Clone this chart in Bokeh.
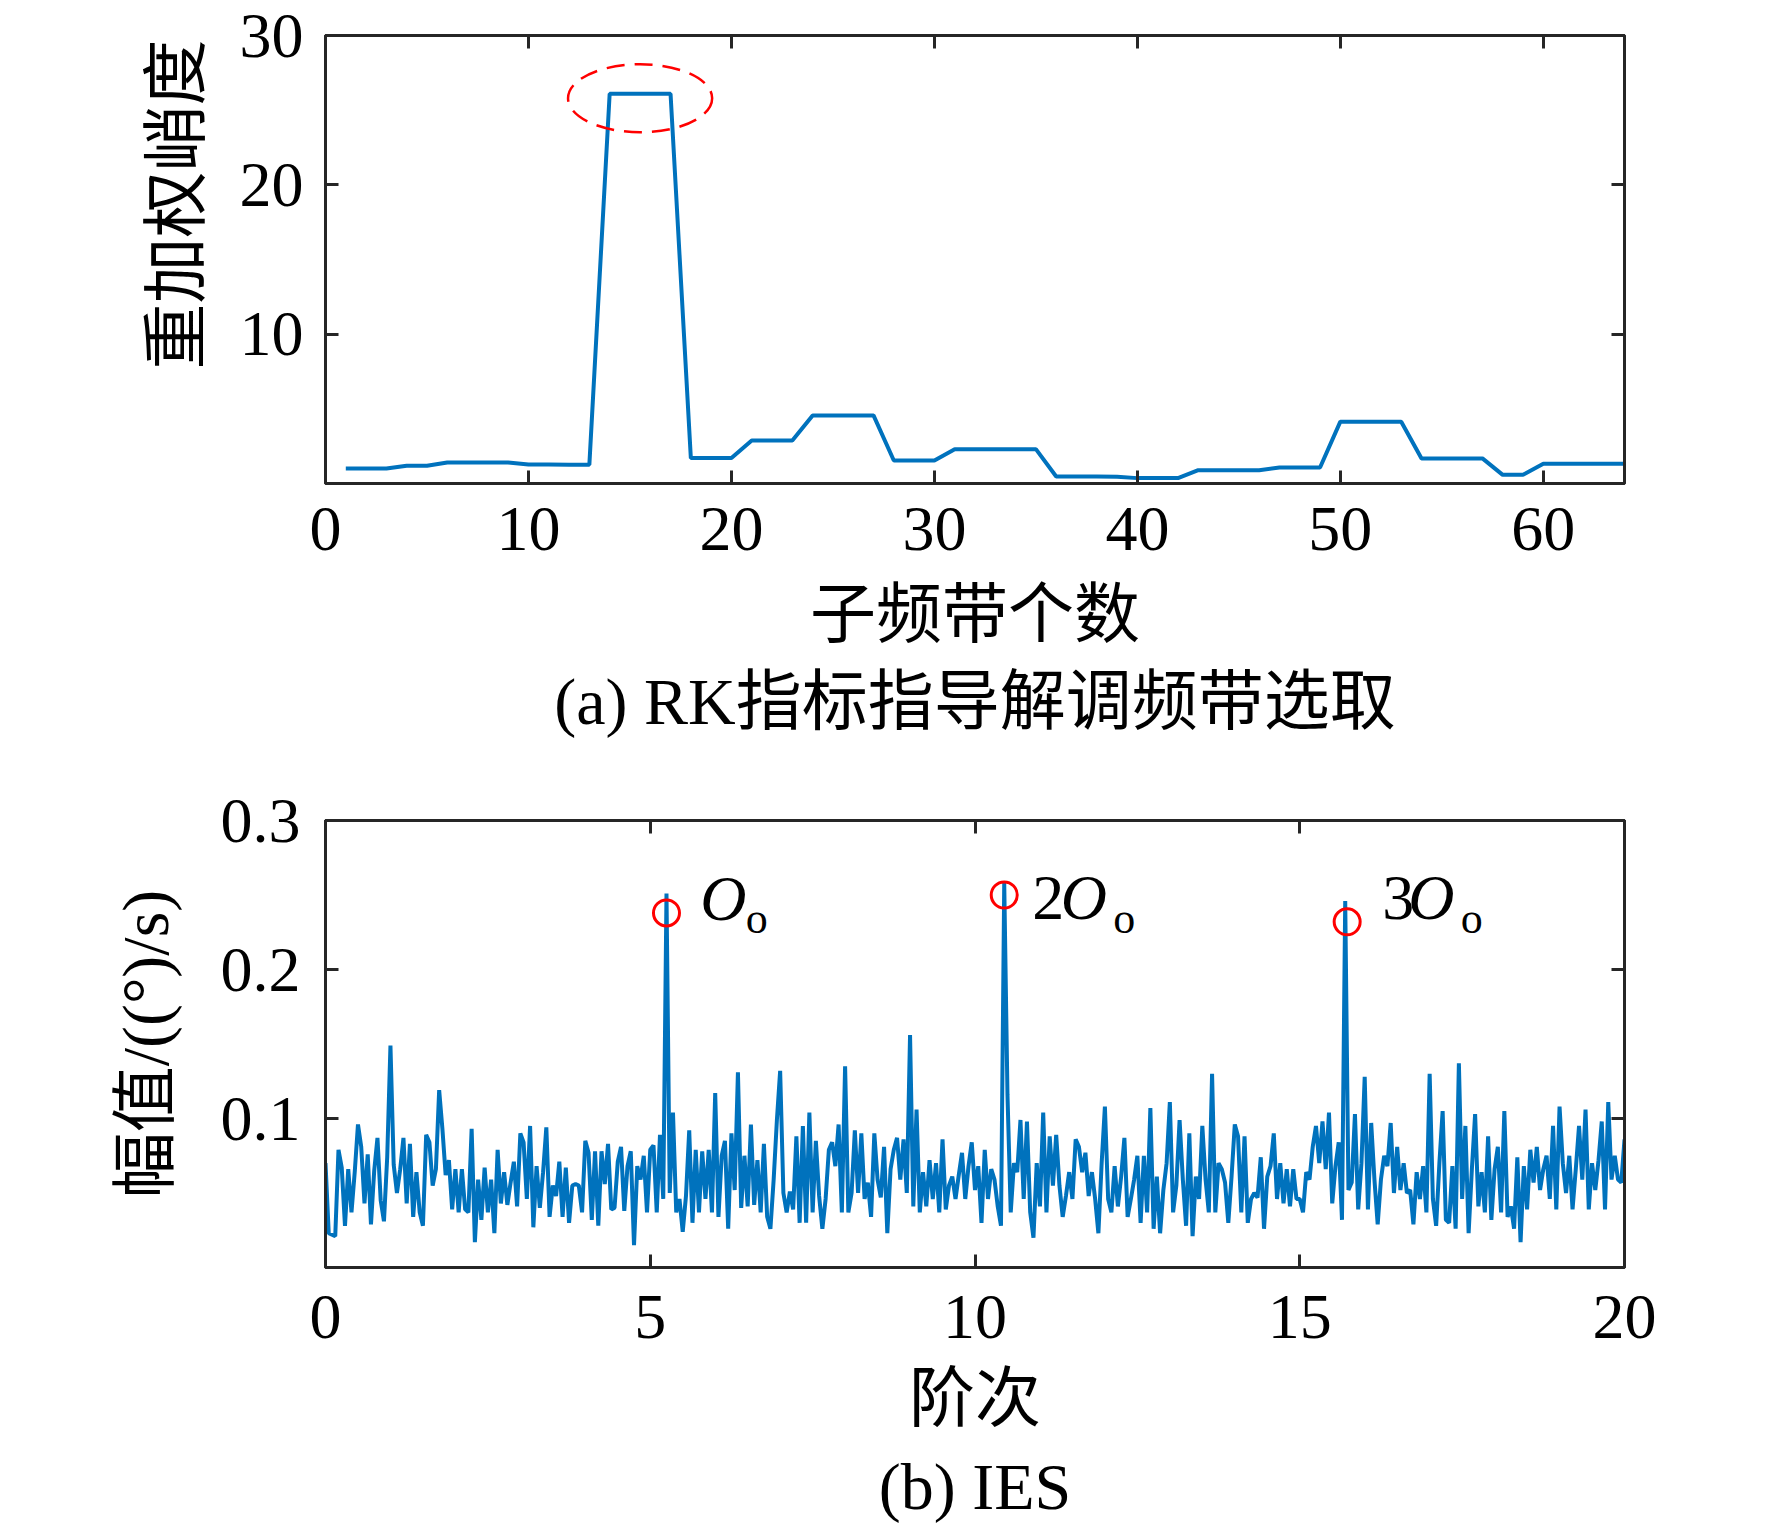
#RK index band selection + IES spectrum, two stacked panels
from bokeh.plotting import figure
from bokeh.models import Range1d, LinearAxis, FixedTicker, Label, Title, CustomJSTickFormatter
from bokeh.layouts import column
from bokeh.embed import file_html
from bokeh.resources import INLINE

#Panel (a): reweighted kurtosis per sub-band
band_no = list(range(1, 65))
rk_value = [1.00, 1.00, 1.00, 1.19, 1.19, 1.41, 1.41, 1.41, 1.40, 1.28, 1.27, 1.26, 1.26,
            26.1, 26.1, 26.1, 26.1,
            1.70, 1.70, 1.70, 2.88, 2.88, 2.88, 4.56, 4.56, 4.56, 4.56, 1.54, 1.54, 1.54,
            2.30, 2.30, 2.30, 2.30, 2.30, 0.47, 0.47, 0.47, 0.46, 0.36, 0.36, 0.36,
            0.89, 0.89, 0.89, 0.89, 1.07, 1.07, 1.07, 4.14, 4.14, 4.14, 4.14,
            1.68, 1.68, 1.68, 1.68, 0.58, 0.58, 1.32, 1.32, 1.32, 1.32, 1.32]
ring_x, ring_y, ring_w, ring_h = 15.5, 25.8, 7.1, 4.55

#Panel (b): IES amplitude, orders 0..20 step 0.05
amp_0_5 = [0.070, 0.023, 0.022, 0.021, 0.079, 0.067, 0.028, 0.066, 0.037, 0.064,
           0.096, 0.081, 0.043, 0.076, 0.029, 0.065, 0.087, 0.045, 0.031, 0.074,
           0.149, 0.069, 0.050, 0.066, 0.087, 0.043, 0.083, 0.034, 0.064, 0.037,
           0.028, 0.089, 0.084, 0.055, 0.066, 0.119, 0.093, 0.062, 0.072, 0.039,
           0.066, 0.037, 0.066, 0.039, 0.037, 0.093, 0.017, 0.059, 0.032, 0.067,
           0.037, 0.059, 0.023, 0.079, 0.043, 0.064, 0.042, 0.057, 0.071, 0.041,
           0.090, 0.084, 0.046, 0.095, 0.027, 0.068, 0.040, 0.064, 0.094, 0.034,
           0.055, 0.048, 0.071, 0.034, 0.067, 0.030, 0.055, 0.056, 0.055, 0.037,
           0.085, 0.077, 0.032, 0.078, 0.028, 0.078, 0.056, 0.083, 0.039, 0.040,
           0.071, 0.081, 0.038, 0.068, 0.078, 0.015, 0.068, 0.059, 0.075, 0.037]
amp_5_10 = [0.079, 0.082, 0.037, 0.089, 0.046, 0.251, 0.050, 0.104, 0.037, 0.046,
            0.024, 0.048, 0.092, 0.030, 0.079, 0.037, 0.078, 0.046, 0.079, 0.037,
            0.117, 0.034, 0.075, 0.085, 0.026, 0.090, 0.052, 0.131, 0.040, 0.075,
            0.041, 0.096, 0.042, 0.072, 0.037, 0.083, 0.034, 0.026, 0.059, 0.099,
            0.132, 0.050, 0.037, 0.051, 0.039, 0.088, 0.030, 0.095, 0.030, 0.104,
            0.037, 0.085, 0.048, 0.026, 0.046, 0.079, 0.084, 0.068, 0.096, 0.037,
            0.135, 0.037, 0.050, 0.092, 0.050, 0.090, 0.046, 0.057, 0.034, 0.090,
            0.059, 0.047, 0.081, 0.023, 0.066, 0.079, 0.087, 0.059, 0.086, 0.050,
            0.156, 0.041, 0.106, 0.037, 0.064, 0.041, 0.072, 0.046, 0.070, 0.037,
            0.086, 0.039, 0.055, 0.061, 0.046, 0.062, 0.077, 0.046, 0.068, 0.084]
amp_10_15 = [0.052, 0.068, 0.030, 0.079, 0.046, 0.066, 0.059, 0.041, 0.028, 0.258,
             0.116, 0.037, 0.070, 0.064, 0.099, 0.046, 0.098, 0.037, 0.020, 0.070,
             0.041, 0.104, 0.037, 0.088, 0.055, 0.089, 0.055, 0.034, 0.048, 0.064,
             0.046, 0.086, 0.081, 0.064, 0.077, 0.048, 0.064, 0.046, 0.023, 0.070,
             0.108, 0.046, 0.037, 0.068, 0.041, 0.061, 0.087, 0.034, 0.046, 0.059,
             0.075, 0.030, 0.075, 0.037, 0.107, 0.026, 0.061, 0.023, 0.052, 0.070,
             0.111, 0.037, 0.055, 0.099, 0.059, 0.028, 0.090, 0.021, 0.061, 0.046,
             0.095, 0.059, 0.037, 0.130, 0.037, 0.070, 0.066, 0.057, 0.030, 0.061,
             0.096, 0.088, 0.037, 0.088, 0.030, 0.046, 0.050, 0.047, 0.074, 0.026,
             0.061, 0.068, 0.090, 0.046, 0.070, 0.043, 0.066, 0.041, 0.066, 0.046]
amp_15_20 = [0.046, 0.037, 0.064, 0.059, 0.081, 0.095, 0.070, 0.098, 0.066, 0.104,
             0.043, 0.068, 0.084, 0.032, 0.246, 0.052, 0.057, 0.103, 0.039, 0.070,
             0.128, 0.039, 0.097, 0.059, 0.029, 0.059, 0.075, 0.068, 0.097, 0.050,
             0.081, 0.052, 0.070, 0.050, 0.052, 0.029, 0.064, 0.046, 0.068, 0.037,
             0.130, 0.046, 0.028, 0.070, 0.105, 0.032, 0.030, 0.068, 0.026, 0.137,
             0.046, 0.095, 0.023, 0.066, 0.103, 0.041, 0.064, 0.037, 0.088, 0.032,
             0.066, 0.081, 0.037, 0.105, 0.034, 0.041, 0.026, 0.074, 0.017, 0.068,
             0.039, 0.079, 0.057, 0.081, 0.052, 0.066, 0.075, 0.046, 0.095, 0.039,
             0.108, 0.070, 0.050, 0.075, 0.039, 0.066, 0.095, 0.059, 0.106, 0.039,
             0.070, 0.052, 0.072, 0.098, 0.039, 0.111, 0.059, 0.075, 0.059, 0.057,
             0.086]
ies_amp = amp_0_5 + amp_5_10 + amp_10_15 + amp_15_20
ies_order = [i * 0.05 for i in range(len(ies_amp))]

#marked fault characteristic orders
peak_order = [5.25, 10.45, 15.73]
peak_amp = [0.238, 0.250, 0.232]
peak_prefix = ["", "2", "3"]
prefix_x = [None, 10.88, 16.27]
big_o_x = [5.77, 11.32, 16.67]
sub_o_x = [6.47, 12.13, 17.48]
label_y = [0.2315, 0.232, 0.232]
sub_y = 0.2235

LATIN = "Liberation Serif"
MIXED = "Liberation Serif, Noto Sans CJK SC"
AX_COLOR = "#262626"
BLUE = "#0072BD"
RED = "#FF0000"
FS = "64px"
FS_CJK = "66px"
LABEL_LIFT = 24  # px, baseline correction for the 64px peak labels
SUB_LIFT = 16    # same correction for the 44px subscripts


def style_axis(ax):
    ax.axis_line_color = AX_COLOR
    ax.axis_line_width = 3
    ax.major_tick_in = 13
    ax.major_tick_out = 0
    ax.major_tick_line_color = AX_COLOR
    ax.major_tick_line_width = 3
    ax.minor_tick_line_color = None
    ax.major_label_text_font = LATIN
    ax.major_label_text_font_size = FS
    ax.major_label_text_color = "black"
    ax.axis_label_text_font = MIXED
    ax.axis_label_text_font_size = FS_CJK
    ax.axis_label_text_font_style = "normal"
    ax.axis_label_text_color = "black"


def make_panel(x_rng, y_rng, xticks, yticks, fh, top_border, bottom_border):
    p = figure(frame_width=1299, frame_height=fh, x_range=x_rng, y_range=y_rng,
               min_border_left=325, min_border_right=130, min_border_top=top_border,
               min_border_bottom=bottom_border, toolbar_location=None, output_backend="svg",
               background_fill_color="white", border_fill_color="white")
    xa, ya = p.below[0], p.left[0]
    xa.ticker = FixedTicker(ticks=xticks)
    ya.ticker = FixedTicker(ticks=yticks)
    style_axis(xa)
    style_axis(ya)
    # box ticks on top and right, no labels (MATLAB box on)
    top = LinearAxis(ticker=FixedTicker(ticks=xticks))
    right = LinearAxis(ticker=FixedTicker(ticks=yticks))
    for ax in (top, right):
        style_axis(ax)
        ax.formatter = CustomJSTickFormatter(code="return ''")
        ax.major_label_text_font_size = "0px"
        ax.major_label_standoff = 0
    p.add_layout(top, "above")
    p.add_layout(right, "right")
    p.grid.visible = False
    p.outline_line_color = AX_COLOR
    p.outline_line_width = 3
    return p, xa, ya


#--- panel (a)
p1, xa1, ya1 = make_panel(Range1d(0, 64), Range1d(0, 30), [0, 10, 20, 30, 40, 50, 60],
                          [10, 20, 30], 448, 35, 290)
xa1.axis_label = "子频带个数"
xa1.major_label_standoff = 24
xa1.axis_label_standoff = 25
ya1.major_label_standoff = 22

p1.line(band_no, rk_value, line_color=BLUE, line_width=4)
p1.ellipse(x=[ring_x], y=[ring_y], width=[ring_w], height=[ring_h], fill_color=None,
           line_color=RED, line_width=2.5, line_dash="18 10")

p1.add_layout(Title(text="重加权峭度", align="right", offset=4, text_font=MIXED,
                    text_font_size=FS_CJK, text_font_style="normal", text_color="black",
                    standoff=48), "left")
p1.add_layout(Title(text="(a) RK指标指导解调频带选取", align="center", text_font=MIXED,
                    text_font_size=FS_CJK, text_font_style="normal", text_color="black",
                    standoff=18), "below")

#--- panel (b)
p2, xa2, ya2 = make_panel(Range1d(0, 20), Range1d(0, 0.3), [0, 5, 10, 15, 20],
                          [0.1, 0.2, 0.3], 447, 47, 260)
xa2.axis_label = "阶次"
xa2.major_label_standoff = 28
xa2.axis_label_standoff = 21
ya2.axis_label = "幅值/((°)/s)"
ya2.major_label_standoff = 25
ya2.axis_label_standoff = 36

p2.line(ies_order, ies_amp, line_color=BLUE, line_width=4)
p2.scatter(peak_order, peak_amp, marker="circle", size=26, fill_color=None,
           line_color=RED, line_width=3)

for i in range(len(peak_order)):
    if peak_prefix[i]:
        p2.add_layout(Label(x=prefix_x[i], y=label_y[i], y_offset=LABEL_LIFT,
                            text=peak_prefix[i], text_font=LATIN, text_font_size=FS,
                            text_align="left", text_baseline="alphabetic", text_color="black"))
    p2.add_layout(Label(x=big_o_x[i], y=label_y[i], y_offset=LABEL_LIFT, text="O",
                        text_font=LATIN, text_font_size=FS, text_font_style="italic",
                        text_align="left", text_baseline="alphabetic", text_color="black"))
    p2.add_layout(Label(x=sub_o_x[i], y=sub_y, y_offset=SUB_LIFT, text="o", text_font=LATIN,
                        text_font_size="44px", text_align="left",
                        text_baseline="alphabetic", text_color="black"))

p2.add_layout(Title(text="(b) IES", align="center", text_font=MIXED, text_font_size=FS_CJK,
                    text_font_style="normal", text_color="black", standoff=20), "below")

layout = column(p1, p2, spacing=0)
open("out.html", "w").write(file_html(layout, INLINE))
